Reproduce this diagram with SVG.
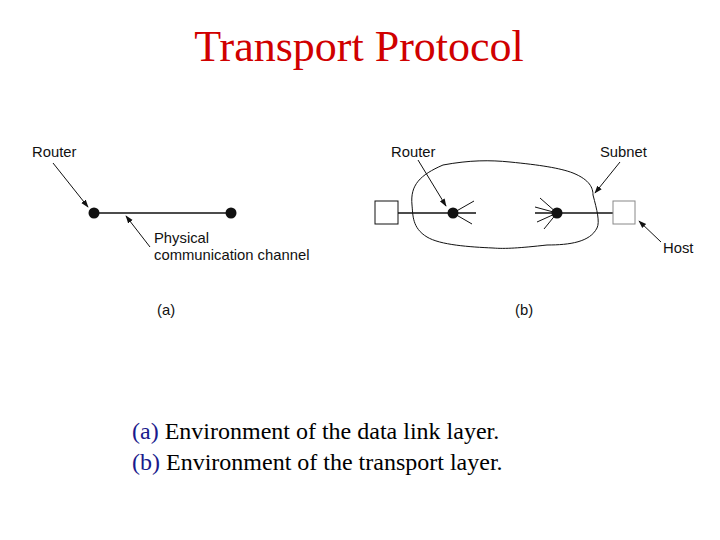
<svg xmlns="http://www.w3.org/2000/svg" width="720" height="540" viewBox="0 0 720 540">
<style>
.l{font-family:"Liberation Sans",Arial,sans-serif;font-size:14.8px;fill:#111}
.t{font-family:"Liberation Serif","Times New Roman",serif}
.ln{stroke:#111;stroke-width:1.6;fill:none}
.th{stroke:#111;stroke-width:1;fill:none}
</style>
<defs><marker id="ah" viewBox="0 0 10 10" refX="9" refY="5" markerWidth="8" markerHeight="8" orient="auto"><path d="M0,1.5 L10,5 L0,8.5 z" fill="#111"/></marker></defs>
<rect width="720" height="540" fill="#fff"/>
<text x="359" y="61" text-anchor="middle" class="t" font-size="44" fill="#d00000">Transport Protocol</text>
<g id="a">
<line class="ln" x1="94" y1="213" x2="231" y2="213"/>
<circle cx="94" cy="213" r="5.5" fill="#111"/>
<circle cx="231" cy="213" r="5.5" fill="#111"/>
<text class="l" x="32" y="157">Router</text>
<text class="l" x="154" y="243">Physical</text>
<text class="l" x="154" y="260">communication channel</text>
<text class="l" x="157" y="315">(a)</text>
</g>
<g id="b">
<path class="th" d="M412,205 C410,185 420,175 443,165 C470,160 490,160 510,162 C540,165 560,168 573,173 C590,180 593,188 593,195 C597,210 600,222 597,228 C590,242 570,245 547,245 C520,248 505,249 493,248 C470,247 440,245 427,237 C412,228 413,215 412,205 z"/>
<line class="ln" x1="398" y1="213" x2="476" y2="213"/>
<line class="ln" x1="535" y1="213" x2="613" y2="213"/>
<line class="th" x1="453" y1="213" x2="474" y2="201"/>
<line class="th" x1="453" y1="213" x2="472" y2="224"/>
<line class="th" x1="557" y1="213" x2="540" y2="198"/>
<line class="th" x1="557" y1="213" x2="535" y2="207"/>
<line class="th" x1="557" y1="213" x2="537" y2="222"/>
<line class="th" x1="557" y1="213" x2="544" y2="229"/>
<rect x="375" y="201" width="23" height="23" fill="#fff" stroke="#111" stroke-width="1"/>
<rect x="613" y="201" width="22" height="23" fill="#fff" stroke="#888" stroke-width="1"/>
<circle cx="453" cy="213" r="5.5" fill="#111"/>
<circle cx="557" cy="213" r="5.5" fill="#111"/>
<text class="l" x="391" y="157">Router</text>
<text class="l" x="600" y="157">Subnet</text>
<text class="l" x="663" y="253">Host</text>
<text class="l" x="515" y="315">(b)</text>
</g>
<g id="connectors">
<line class="th" x1="53" y1="163" x2="88" y2="207" marker-end="url(#ah)"/>
<line class="th" x1="150" y1="247" x2="126" y2="216" marker-end="url(#ah)"/>
<line class="th" x1="418" y1="160" x2="446" y2="206" marker-end="url(#ah)"/>
<line class="th" x1="620" y1="162" x2="595" y2="193" marker-end="url(#ah)"/>
<line class="th" x1="661" y1="242" x2="639" y2="221" marker-end="url(#ah)"/>
</g>
<text class="t" font-size="24" x="132" y="439"><tspan fill="#1a1a8c">(a)</tspan> Environment of the data link layer.</text>
<text class="t" font-size="24" x="132" y="470"><tspan fill="#1a1a8c">(b)</tspan> Environment of the transport layer.</text>
</svg>
